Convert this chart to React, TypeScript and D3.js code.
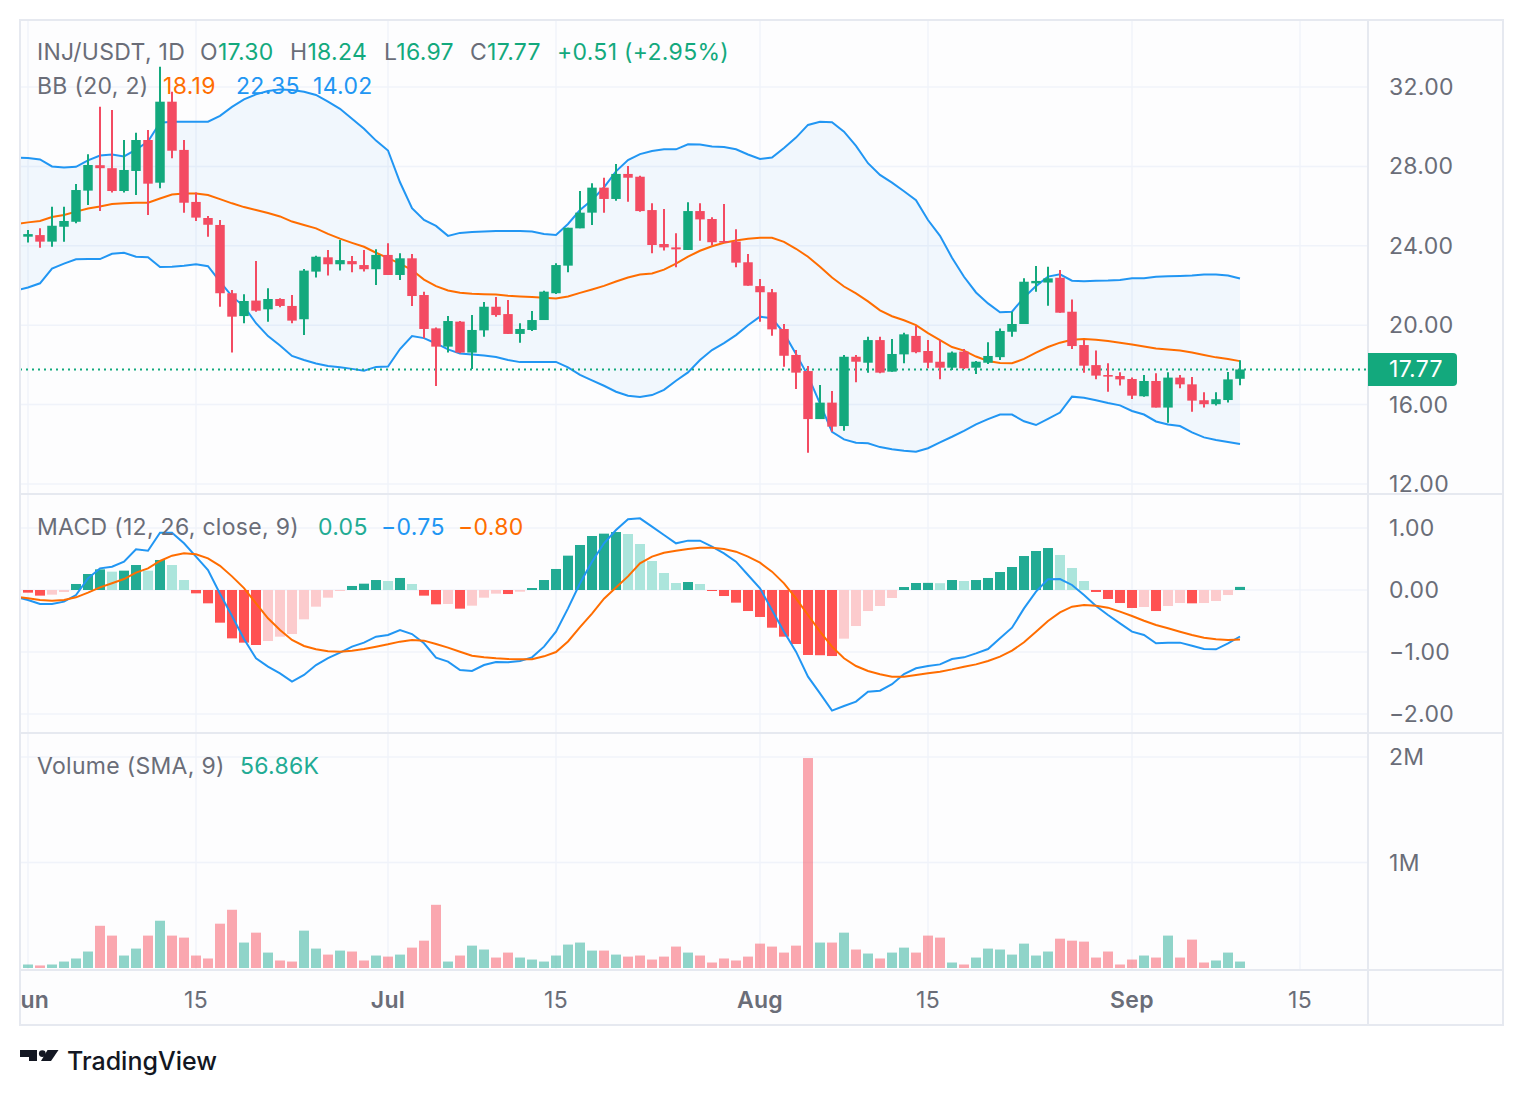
import React from "react";
import * as d3 from "d3";

// ---------- data ----------
const START = new Date(Date.UTC(2024, 4, 31));

const openP = [
  24.90, 24.46, 24.54, 24.21, 24.96, 25.21, 26.78, 28.06, 27.91, 26.76,
  27.77, 29.33, 27.18, 31.26, 28.83, 26.21, 25.40, 25.05, 21.61, 20.46,
  21.24, 20.80, 21.32, 20.97, 20.30, 22.70, 23.42, 23.07, 23.23, 23.03,
  22.82, 23.54, 22.53, 23.37, 21.52, 19.84, 18.92, 20.18, 18.62, 19.74,
  20.93, 20.56, 19.56, 19.76, 20.26, 21.61, 23.00, 24.88, 25.67, 26.93,
  26.36, 27.62, 27.48, 25.80, 24.09, 23.92, 23.79, 25.75, 25.35, 24.24,
  24.21, 23.17, 21.97, 21.66, 19.81, 18.50, 17.69, 15.27, 16.10, 14.92,
  18.41, 18.11, 19.25, 17.66, 18.53, 19.46, 18.70, 18.16, 17.86, 18.67,
  17.86, 18.11, 18.39, 19.67, 20.06, 22.11, 22.15, 22.39, 20.68, 19.00,
  17.99, 17.49, 17.44, 17.29, 16.42, 17.19, 15.85, 17.36, 17.02, 16.22,
  16.02, 16.23, 17.30,
];
const highP = [
  25.00, 24.80, 24.88, 25.97, 25.97, 27.11, 28.61, 31.01, 30.84, 29.33,
  29.70, 29.83, 33.02, 31.76, 29.33, 26.68, 25.50, 25.30, 21.77, 21.56,
  23.23, 21.86, 21.36, 21.52, 22.83, 23.50, 23.79, 24.29, 23.49, 23.79,
  23.82, 24.13, 23.62, 23.59, 21.69, 19.89, 20.46, 20.21, 20.51, 21.17,
  21.42, 21.27, 20.10, 20.72, 21.74, 23.12, 24.91, 26.76, 27.15, 27.43,
  28.12, 28.02, 27.53, 26.14, 25.85, 24.63, 26.19, 26.14, 25.44, 26.11,
  24.83, 23.59, 22.33, 21.82, 20.06, 18.75, 17.94, 16.99, 16.68, 18.50,
  18.50, 19.42, 19.42, 19.30, 19.62, 19.96, 19.25, 19.25, 18.67, 18.80,
  18.20, 19.14, 19.84, 20.68, 22.36, 22.98, 22.95, 22.78, 21.30, 19.25,
  18.72, 18.08, 17.63, 17.36, 17.49, 17.58, 17.63, 17.49, 17.39, 16.62,
  16.62, 17.64, 18.24,
];
const lowP = [
  24.30, 24.16, 23.90, 23.95, 24.21, 25.13, 26.06, 25.75, 26.68, 26.68,
  26.56, 25.55, 26.90, 28.41, 25.67, 25.25, 24.46, 20.93, 18.62, 20.10,
  20.68, 20.18, 20.90, 20.10, 19.51, 22.40, 22.50, 22.75, 22.67, 22.70,
  22.03, 22.53, 22.28, 20.97, 19.34, 16.94, 18.62, 18.59, 17.79, 19.42,
  20.43, 19.56, 19.12, 19.71, 20.26, 21.57, 22.67, 24.88, 25.05, 25.67,
  26.27, 26.22, 25.72, 23.62, 23.76, 22.92, 23.79, 24.26, 24.01, 24.16,
  22.92, 21.99, 20.18, 19.47, 17.91, 16.79, 13.58, 15.27, 14.63, 14.68,
  17.12, 17.61, 17.58, 17.66, 18.08, 18.59, 17.83, 17.28, 17.74, 17.79,
  17.54, 18.05, 18.25, 19.42, 20.06, 21.69, 20.98, 20.63, 18.80, 17.61,
  17.28, 16.65, 16.96, 16.28, 16.40, 15.85, 15.09, 16.82, 15.64, 15.86,
  15.95, 16.10, 16.97,
];
const closeP = [
  24.50, 24.59, 24.21, 25.01, 25.25, 26.81, 28.07, 27.91, 26.76, 27.82,
  29.33, 27.13, 31.26, 28.79, 26.17, 25.42, 25.06, 21.61, 20.43, 21.22,
  20.73, 21.32, 20.97, 20.23, 22.75, 23.45, 23.07, 23.28, 23.07, 22.82,
  23.54, 22.53, 23.37, 21.47, 19.81, 18.92, 20.21, 18.62, 19.76, 20.93,
  20.51, 19.56, 19.81, 20.26, 21.69, 23.03, 24.91, 25.67, 26.93, 26.36,
  27.62, 27.43, 25.75, 24.04, 23.92, 23.82, 25.75, 25.33, 24.18, 24.16,
  23.15, 21.99, 21.66, 19.79, 18.46, 17.61, 15.27, 16.10, 14.89, 18.41,
  18.16, 19.25, 17.61, 18.55, 19.54, 18.64, 18.11, 17.86, 18.62, 17.83,
  18.16, 18.45, 19.71, 20.06, 22.19, 22.23, 22.36, 20.63, 18.95, 17.96,
  17.46, 17.41, 17.27, 16.45, 17.19, 15.85, 17.36, 17.02, 16.20, 16.02,
  16.27, 17.27, 17.77,
];
// volume in thousands
const volumeK = [
  20, 33, 24, 33, 61, 90, 156, 400, 307, 118,
  184, 307, 448, 307, 288, 118, 90, 420, 552, 241,
  335, 146, 71, 61, 354, 184, 127, 165, 156, 71,
  118, 108, 127, 193, 259, 599, 61, 118, 212, 175,
  99, 146, 99, 80, 61, 118, 222, 241, 165, 165,
  127, 108, 118, 80, 108, 203, 146, 118, 52, 90,
  71, 108, 231, 203, 146, 212, 1990, 241, 241, 335,
  175, 137, 90, 146, 193, 146, 307, 288, 52, 33,
  99, 184, 175, 127, 231, 118, 156, 278, 259, 250,
  99, 156, 33, 80, 118, 99, 307, 99, 269, 52,
  71, 146, 61,
];
const bbUpper = [
  28.45, 28.42, 28.35, 28.00, 27.95, 27.98, 28.30, 28.55, 28.60, 28.50,
  28.85, 29.25, 30.20, 30.25, 30.25, 30.25, 30.25, 30.55, 31.00, 31.38,
  31.63, 31.80, 31.88, 31.85, 31.76, 31.60, 31.26, 30.90, 30.40, 29.90,
  29.30, 28.80, 27.20, 25.90, 25.30, 25.00, 24.50, 24.65, 24.70, 24.72,
  24.75, 24.75, 24.75, 24.72, 24.60, 24.55, 25.10, 25.80, 26.30, 26.95,
  27.75, 28.32, 28.62, 28.78, 28.86, 28.86, 29.11, 29.10, 29.00, 28.98,
  28.86, 28.60, 28.37, 28.45, 28.93, 29.45, 30.09, 30.25, 30.22, 29.75,
  29.03, 28.16, 27.57, 27.18, 26.75, 26.30, 25.30, 24.50, 23.40, 22.44,
  21.65, 21.10, 20.65, 20.68, 21.40, 21.97, 22.45, 22.56, 22.24, 22.22,
  22.24, 22.25, 22.28, 22.36, 22.36, 22.44, 22.46, 22.48, 22.50, 22.56,
  22.56, 22.50, 22.35,
];
const bbBasis = [
  25.10, 25.18, 25.25, 25.45, 25.55, 25.72, 25.88, 25.98, 26.10, 26.14,
  26.17, 26.17, 26.38, 26.58, 26.63, 26.63, 26.56, 26.35, 26.14, 25.95,
  25.80, 25.65, 25.48, 25.22, 25.05, 24.88, 24.60, 24.36, 24.15, 23.95,
  23.65, 23.38, 23.10, 22.78, 22.30, 21.97, 21.75, 21.63, 21.58, 21.56,
  21.55, 21.48, 21.45, 21.42, 21.38, 21.34, 21.45, 21.63, 21.80, 21.98,
  22.20, 22.40, 22.55, 22.61, 22.80, 23.10, 23.45, 23.75, 23.98, 24.15,
  24.27, 24.36, 24.41, 24.40, 24.20, 23.85, 23.45, 22.95, 22.40, 21.95,
  21.60, 21.20, 20.75, 20.45, 20.25, 20.00, 19.60, 19.25, 18.90, 18.72,
  18.42, 18.20, 18.10, 18.08, 18.30, 18.62, 18.90, 19.12, 19.27, 19.30,
  19.27, 19.20, 19.12, 19.03, 18.93, 18.83, 18.78, 18.72, 18.62, 18.50,
  18.38, 18.30, 18.19,
];
const bbLower = [
  21.75, 21.90, 22.11, 22.85, 23.10, 23.32, 23.33, 23.33, 23.60, 23.65,
  23.45, 23.42, 22.93, 22.95, 23.00, 23.07, 22.97, 22.20, 21.45, 20.95,
  20.10, 19.45, 18.98, 18.45, 18.25, 18.07, 17.95, 17.88, 17.80, 17.71,
  17.90, 17.92, 18.80, 19.45, 19.35, 19.08, 18.78, 18.57, 18.52, 18.47,
  18.40, 18.25, 18.14, 18.15, 18.15, 18.15, 17.88, 17.50, 17.22, 16.95,
  16.65, 16.45, 16.38, 16.48, 16.74, 17.20, 17.62, 18.25, 18.75, 19.10,
  19.50, 20.00, 20.43, 20.35, 19.60, 18.55, 17.45, 16.05, 14.63, 14.25,
  14.08, 14.05, 13.86, 13.75, 13.67, 13.63, 13.80, 14.10, 14.38, 14.68,
  15.00, 15.27, 15.50, 15.50, 15.16, 14.97, 15.28, 15.60, 16.40, 16.35,
  16.22, 16.08, 15.96, 15.68, 15.50, 15.15, 15.00, 14.92, 14.60, 14.35,
  14.22, 14.12, 14.02,
];
const macdLine = [
  -0.11, -0.161, -0.226, -0.226, -0.188, -0.081, 0.188, 0.349, 0.376, 0.457,
  0.656, 0.634, 0.925, 0.925, 0.753, 0.538, 0.323, -0.06, -0.42, -0.79,
  -1.102, -1.237, -1.344, -1.478, -1.37, -1.21, -1.10, -1.01, -0.914, -0.849,
  -0.753, -0.726, -0.645, -0.71, -0.86, -1.09, -1.156, -1.29, -1.306, -1.21,
  -1.161, -1.167, -1.145, -1.086, -0.914, -0.672, -0.296, 0.108, 0.457, 0.753,
  0.968, 1.14, 1.156, 1.022, 0.887, 0.753, 0.796, 0.796, 0.699, 0.591,
  0.457, 0.242, 0.027, -0.323, -0.672, -0.995, -1.398, -1.667, -1.946, -1.871,
  -1.80, -1.64, -1.624, -1.52, -1.355, -1.263, -1.226, -1.2, -1.113, -1.086,
  -1.022, -0.952, -0.78, -0.608, -0.296, -0.027, 0.172, 0.177, 0.081, -0.081,
  -0.258, -0.403, -0.538, -0.672, -0.726, -0.86, -0.849, -0.849, -0.898, -0.952,
  -0.957, -0.86, -0.75,
];
const signalLine = [
  -0.108, -0.134, -0.161, -0.172, -0.161, -0.118, -0.043, 0.043, 0.108, 0.177,
  0.28, 0.349, 0.468, 0.554, 0.591, 0.575, 0.511, 0.39, 0.22, 0.03,
  -0.215, -0.457, -0.645, -0.806, -0.903, -0.957, -0.989, -0.995, -0.978, -0.952,
  -0.914, -0.876, -0.833, -0.806, -0.817, -0.871, -0.93, -0.995, -1.059, -1.086,
  -1.102, -1.113, -1.118, -1.118, -1.07, -1.0, -0.83, -0.6, -0.38, -0.14,
  0.04, 0.22, 0.43, 0.538, 0.602, 0.634, 0.661, 0.683, 0.683, 0.661,
  0.618, 0.538, 0.441, 0.296, 0.108, -0.134, -0.403, -0.672, -0.914, -1.102,
  -1.226, -1.306, -1.36, -1.398, -1.398, -1.371, -1.344, -1.317, -1.28, -1.237,
  -1.2, -1.145, -1.075, -0.978, -0.844, -0.672, -0.5, -0.36, -0.269, -0.242,
  -0.253, -0.285, -0.349, -0.419, -0.495, -0.565, -0.618, -0.672, -0.726, -0.769,
  -0.796, -0.806, -0.80,
];
const macdHist = [
  -0.02, -0.043, -0.091, -0.075, -0.032, 0.097, 0.258, 0.333, 0.296, 0.312,
  0.403, 0.312, 0.484, 0.403, 0.161, -0.054, -0.215, -0.527, -0.78, -0.849,
  -0.887, -0.823, -0.753, -0.71, -0.473, -0.269, -0.124, -0.016, 0.065, 0.102,
  0.161, 0.145, 0.194, 0.097, -0.091, -0.231, -0.226, -0.301, -0.253, -0.124,
  -0.059, -0.065, -0.027, 0.032, 0.161, 0.339, 0.554, 0.726, 0.871, 0.909,
  0.935, 0.903, 0.742, 0.468, 0.274, 0.113, 0.129, 0.097, -0.016, -0.097,
  -0.204, -0.339, -0.435, -0.608, -0.753, -0.871, -1.048, -1.052, -1.065, -0.785,
  -0.581, -0.339, -0.258, -0.129, 0.048, 0.113, 0.115, 0.11, 0.161, 0.145,
  0.161, 0.194, 0.29, 0.371, 0.548, 0.629, 0.677, 0.565, 0.355, 0.145,
  -0.032, -0.145, -0.21, -0.29, -0.274, -0.339, -0.258, -0.21, -0.215, -0.21,
  -0.177, -0.081, 0.05,
];

const priceTicks = [12, 16, 20, 24, 28, 32];
const macdTicks = [-2, -1, 0, 1];
const volTicks = [1000, 2000];
const volTickLabels = ["1M", "2M"];
const timeTicks: [string, string, boolean][] = [
  ["2024-06-01", "Jun", true],
  ["2024-06-15", "15", false],
  ["2024-07-01", "Jul", true],
  ["2024-07-15", "15", false],
  ["2024-08-01", "Aug", true],
  ["2024-08-15", "15", false],
  ["2024-09-01", "Sep", true],
  ["2024-09-15", "15", false],
];
const lastPrice = 17.77;

// ---------- style ----------
const FONT = "Inter, 'Noto Sans', Roboto, sans-serif";
const FS = 23;
const LS = 0.3;
const UP = "#13a97d";
const DOWN = "#f34b62";
const GRAY = "#6a6d78";
const GRID = "#f0f3fa";
const BORDER = "#e6e9f0";
const BLUE = "#2196f3";
const ORANGE = "#ff6d00";

export default function App() {
  const n = closeP.length;
  const dates = d3.range(n).map((i) => d3.utcDay.offset(START, i));
  const x = d3
    .scaleUtc()
    .domain([START, d3.utcDay.offset(START, n - 1)])
    .range([16, 1240]);
  const xi = (i: number) => x(dates[i]);

  const PL = 20, PR = 1368;
  const yP = d3.scaleLinear().domain([12, 32]).range([484, 87]);
  const yM = d3.scaleLinear().domain([-2, 1]).range([714, 528]);
  const yV = d3.scaleLinear().domain([0, 2000]).range([968, 757]);

  const lineP = d3.line<number>().x((_, i) => xi(i)).y((v) => yP(v));
  const lineM = d3.line<number>().x((_, i) => xi(i)).y((v) => yM(v));
  const bandArea = d3
    .area<number>()
    .x((_, i) => xi(i))
    .y0((_, i) => yP(bbLower[i]))
    .y1((v) => yP(v));

  const histColor = (i: number) => {
    const h = macdHist[i];
    const prev = i > 0 ? macdHist[i - 1] : h;
    if (h >= 0) return prev < h ? "#22ab94" : "#ace5dc";
    return prev < h ? "#fccbcd" : "#ff5252";
  };

  const bodyW = 9.5;
  const barW = 10;

  const txt = (props: any, s: string) => (
    <text fontFamily={FONT} fontSize={FS} letterSpacing={LS} {...props}>
      {s}
    </text>
  );

  const ohlc = (xx: number, k: string, v: string) => (
    <text x={xx} y={60} fontFamily={FONT} fontSize={FS} letterSpacing={LS}>
      <tspan fill={GRAY}>{k}</tspan>
      <tspan fill={UP}>{v}</tspan>
    </text>
  );

  return (
    <div style={{ position: "absolute", left: 0, top: 0 }}>
      <svg width={1524} height={1096} style={{ display: "block", background: "#ffffff" }}>
        <defs>
          <clipPath id="clipMain">
            <rect x={PL} y={20} width={PR - PL} height={474} />
          </clipPath>
          <clipPath id="clipMacd">
            <rect x={PL} y={494} width={PR - PL} height={239} />
          </clipPath>
          <clipPath id="clipVol">
            <rect x={PL} y={733} width={PR - PL} height={237} />
          </clipPath>
          <clipPath id="clipTime">
            <rect x={PL} y={970} width={PR - PL} height={55} />
          </clipPath>
        </defs>

        {/* pane background */}
        <rect x={20} y={20} width={1483} height={1005} fill="#fdfdfe" />

        {/* grid */}
        <g stroke={GRID} strokeWidth={1.5}>
          {timeTicks.map(([d]) => {
            const xx = x(new Date(d + "T00:00:00Z"));
            return <line key={d} x1={xx} x2={xx} y1={20} y2={970} />;
          })}
          {priceTicks.map((t) => (
            <line key={"p" + t} x1={PL} x2={PR} y1={yP(t)} y2={yP(t)} />
          ))}
          {macdTicks.map((t) => (
            <line key={"m" + t} x1={PL} x2={PR} y1={yM(t)} y2={yM(t)} />
          ))}
          {volTicks.map((t) => (
            <line key={"v" + t} x1={PL} x2={PR} y1={yV(t)} y2={yV(t)} />
          ))}
        </g>

        {/* main pane */}
        <g clipPath="url(#clipMain)">
          <path d={bandArea(bbUpper) || ""} fill={BLUE} fillOpacity={0.055} />
          <path d={lineP(bbUpper) || ""} fill="none" stroke={BLUE} strokeWidth={2} />
          <path d={lineP(bbLower) || ""} fill="none" stroke={BLUE} strokeWidth={2} />
          <path d={lineP(bbBasis) || ""} fill="none" stroke={ORANGE} strokeWidth={2} />
          <line
            x1={PL}
            x2={PR}
            y1={yP(lastPrice)}
            y2={yP(lastPrice)}
            stroke={UP}
            strokeWidth={2}
            strokeDasharray="2 4"
          />
          {closeP.map((c, i) => {
            const o = openP[i];
            const col = c >= o ? UP : DOWN;
            const cx = xi(i);
            const top = yP(Math.max(o, c));
            const bot = yP(Math.min(o, c));
            return (
              <g key={i}>
                <line x1={cx} x2={cx} y1={yP(highP[i])} y2={yP(lowP[i])} stroke={col} strokeWidth={2} />
                <rect x={cx - bodyW / 2} y={top} width={bodyW} height={Math.max(1.5, bot - top)} fill={col} />
              </g>
            );
          })}
        </g>

        {/* MACD pane */}
        <g clipPath="url(#clipMacd)">
          {macdHist.map((h, i) => {
            const y0 = yM(0);
            const y1 = yM(h);
            return (
              <rect
                key={i}
                x={xi(i) - barW / 2}
                y={Math.min(y0, y1)}
                width={barW}
                height={Math.max(1, Math.abs(y1 - y0))}
                fill={histColor(i)}
              />
            );
          })}
          <path d={lineM(macdLine) || ""} fill="none" stroke={BLUE} strokeWidth={2} />
          <path d={lineM(signalLine) || ""} fill="none" stroke={ORANGE} strokeWidth={2} />
        </g>

        {/* Volume pane */}
        <g clipPath="url(#clipVol)">
          {volumeK.map((v, i) => {
            const up = closeP[i] >= openP[i];
            return (
              <rect
                key={i}
                x={xi(i) - barW / 2}
                y={yV(v)}
                width={barW}
                height={yV(0) - yV(v)}
                fill={up ? "#22ab94" : "#f7525f"}
                fillOpacity={0.5}
              />
            );
          })}
        </g>

        {/* borders / separators */}
        <g stroke={BORDER} strokeWidth={2} fill="none">
          <rect x={20} y={20} width={1483} height={1005} />
          <line x1={PR} x2={PR} y1={20} y2={1025} />
          <line x1={20} x2={1503} y1={494} y2={494} />
          <line x1={20} x2={1503} y1={733} y2={733} />
          <line x1={20} x2={1503} y1={970} y2={970} />
        </g>

        {/* right axis labels */}
        <g fill={GRAY}>
          {priceTicks.map((t) => txt({ key: "pl" + t, x: 1389, y: yP(t) + 8 }, d3.format(".2f")(t)))}
          {macdTicks.map((t) =>
            txt({ key: "ml" + t, x: 1389, y: yM(t) + 8 }, d3.format(".2f")(t).replace("-", "\u2212"))
          )}
          {volTicks.map((t, k) => txt({ key: "vl" + t, x: 1389, y: yV(t) + 8 }, volTickLabels[k]))}
        </g>

        {/* last price label */}
        <path
          d={`M${PR} ${yP(lastPrice) - 16.5} H1453 a4 4 0 0 1 4 4 V${yP(lastPrice) + 12.5} a4 4 0 0 1 -4 4 H${PR} Z`}
          fill={UP}
        />
        {txt({ x: 1389, y: yP(lastPrice) + 8, fill: "#ffffff" }, d3.format(".2f")(lastPrice))}

        {/* time axis */}
        <g clipPath="url(#clipTime)">
          {timeTicks.map(([d, lab, bold]) =>
            txt(
              {
                key: "t" + d,
                x: x(new Date(d + "T00:00:00Z")),
                y: 1008,
                textAnchor: "middle",
                fill: GRAY,
                fontWeight: bold ? 600 : 400,
              },
              lab
            )
          )}
        </g>

        {/* legends */}
        <g>
          {txt({ x: 37, y: 60, fill: GRAY }, "INJ/USDT, 1D")}
          {ohlc(200, "O", "17.30")}
          {ohlc(290, "H", "18.24")}
          {ohlc(384, "L", "16.97")}
          {ohlc(470, "C", "17.77")}
          {txt({ x: 557, y: 60, fill: UP }, "+0.51 (+2.95%)")}

          {txt({ x: 37, y: 94, fill: GRAY }, "BB (20, 2)")}
          {txt({ x: 163, y: 94, fill: ORANGE }, "18.19")}
          {txt({ x: 236, y: 94, fill: BLUE }, "22.35")}
          {txt({ x: 313, y: 94, fill: BLUE }, "14.02")}

          {txt({ x: 37, y: 535, fill: GRAY }, "MACD (12, 26, close, 9)")}
          {txt({ x: 318, y: 535, fill: "#22ab94" }, "0.05")}
          {txt({ x: 381, y: 535, fill: BLUE }, "\u22120.75")}
          {txt({ x: 458, y: 535, fill: ORANGE }, "\u22120.80")}

          {txt({ x: 37, y: 774, fill: GRAY }, "Volume (SMA, 9)")}
          {txt({ x: 240, y: 774, fill: "#22ab94" }, "56.86K")}
        </g>

        {/* TradingView logo */}
        <g fill="#131722">
          <path d="M20 1050 H37 V1061 H29 V1057 H20 Z" />
          <circle cx={42.3} cy={1053.6} r={3.4} />
          <path d="M47.5 1050 H58.5 L51 1061 H41 Z" />
          <text x={67} y={1070} fontFamily={FONT} fontSize={25} fontWeight={500}>
            TradingView
          </text>
        </g>
      </svg>
    </div>
  );
}
